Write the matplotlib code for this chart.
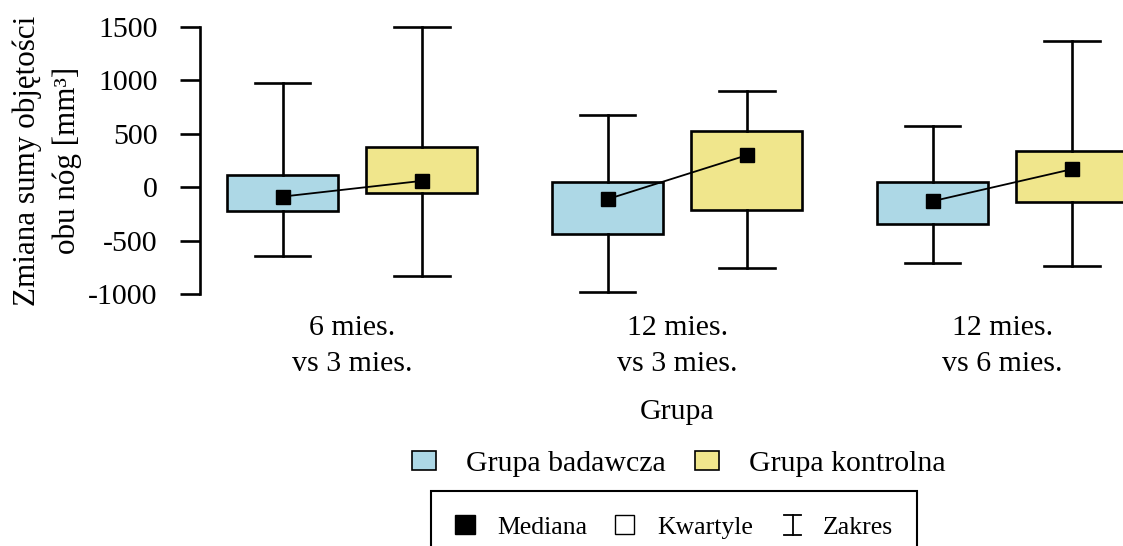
import matplotlib
matplotlib.use("Agg")
import matplotlib.pyplot as plt
from matplotlib.patches import Patch
from matplotlib.lines import Line2D
from matplotlib.legend_handler import HandlerBase

plt.rcParams['font.family'] = ['Liberation Serif', 'DejaVu Serif']

categories = ["6 mies.\nvs 3 mies.", "12 mies.\nvs 3 mies.", "12 mies.\nvs 6 mies."]
groups = ["Grupa badawcza", "Grupa kontrolna"]
colors = ["#ADD8E6", "#F0E68C"]

# per group: values for each category
badawcza_min = [-642, -979, -714]
badawcza_q1 = [-225, -437, -340]
badawcza_med = [-88, -112, -131]
badawcza_q3 = [115, 52, 52]
badawcza_max = [973, 673, 576]

kontrolna_min = [-830, -752, -736]
kontrolna_q1 = [-56, -209, -135]
kontrolna_med = [59, 299, 168]
kontrolna_q3 = [377, 524, 337]
kontrolna_max = [1500, 900, 1365]

yticks = [-1000, -500, 0, 500, 1000, 1500]

data = [
    (badawcza_min, badawcza_q1, badawcza_med, badawcza_q3, badawcza_max),
    (kontrolna_min, kontrolna_q1, kontrolna_med, kontrolna_q3, kontrolna_max),
]

W, H = 1123, 546
fig = plt.figure(figsize=(W / 100, H / 100), dpi=100)
ax = fig.add_axes([200 / W, 1 - 294 / H, 1 - 200 / W, (294 - 27) / H])

offset = 0.214
width = 0.343
xs = list(range(len(categories)))

for gi, (mn, q1, md, q3, mx) in enumerate(data):
    pos = [x + (offset if gi else -offset) for x in xs]
    stats = [dict(whislo=mn[i], q1=q1[i], med=md[i], q3=q3[i], whishi=mx[i], fliers=[])
             for i in range(len(xs))]
    bp = ax.bxp(stats, positions=pos, widths=width, patch_artist=True,
                showfliers=False,
                boxprops=dict(facecolor=colors[gi], edgecolor='black', linewidth=1.9),
                whiskerprops=dict(color='black', linewidth=1.9),
                capprops=dict(color='black', linewidth=1.9),
                medianprops=dict(linewidth=0))
    for k in bp:
        for a in bp[k]:
            a.set_clip_on(False)

for i in xs:
    ax.plot([i - offset, i + offset], [badawcza_med[i], kontrolna_med[i]],
            color='black', lw=1.3, marker='s', markersize=10, clip_on=False,
            zorder=5)

ax.set_xlim(-0.468, 2.372)
ax.set_ylim(-1000, 1500)
for s in ['top', 'right', 'bottom']:
    ax.spines[s].set_visible(False)
ax.spines['left'].set_linewidth(1.9)
ax.set_yticks(yticks)
ax.set_yticklabels([str(v) for v in yticks])
ax.tick_params(axis='y', length=14.4, width=1.9, pad=16, labelsize=21.5)
ax.set_xticks(xs)
ax.set_xticklabels(categories, linespacing=1.48)
ax.tick_params(axis='x', length=0, pad=15.2, labelsize=21.5)
ax.patch.set_visible(False)

fig.text(47 / W, 1 - 160.5 / H, "Zmiana sumy objętości\nobu nóg [mm³]", rotation=90,
         ha='center', va='center', multialignment='center', fontsize=22.4,
         linespacing=1.45)
fig.text(677 / W, 1 - 412 / H, "Grupa", ha='center', va='center', fontsize=21.5)

h1 = [Patch(facecolor=c, edgecolor='black', linewidth=1.2) for c in colors]
fig.legend(h1, groups, loc='center', bbox_to_anchor=(679 / W, 1 - 464 / H),
           ncol=2, frameon=False, fontsize=21.5, handlelength=0.8,
           handleheight=0.6, handletextpad=1.0, columnspacing=1.0)


class RangeHandler(HandlerBase):
    def create_artists(self, legend, orig_handle, xdescent, ydescent, width,
                       height, fontsize, trans):
        cx = -xdescent + width / 2 + 2
        cy = -ydescent + height / 2
        hh = 7.3
        cw = 5.8
        kw = dict(color='black', lw=1.3, transform=trans)
        return [Line2D([cx, cx], [cy - hh, cy + hh], **kw),
                Line2D([cx - cw, cx + cw], [cy + hh, cy + hh], **kw),
                Line2D([cx - cw, cx + cw], [cy - hh, cy - hh], **kw)]


range_handle = Line2D([], [], color='black')
h2 = [Patch(facecolor='black', edgecolor='black'),
      Patch(facecolor='white', edgecolor='black', linewidth=1.0),
      range_handle]
leg2 = fig.legend(h2, ["Mediana", "Kwartyle", "Zakres"], loc='center',
                  bbox_to_anchor=(674 / W, 1 - 527 / H), ncol=3, frameon=True,
                  fancybox=False, fontsize=18.5, handlelength=0.75,
                  handleheight=0.75, handletextpad=0.9, columnspacing=1.05,
                  borderpad=0.95, edgecolor='black', framealpha=1,
                  handler_map={range_handle: RangeHandler()})
leg2.get_frame().set_linewidth(1.5)

fig.savefig("out.png", dpi=100)
